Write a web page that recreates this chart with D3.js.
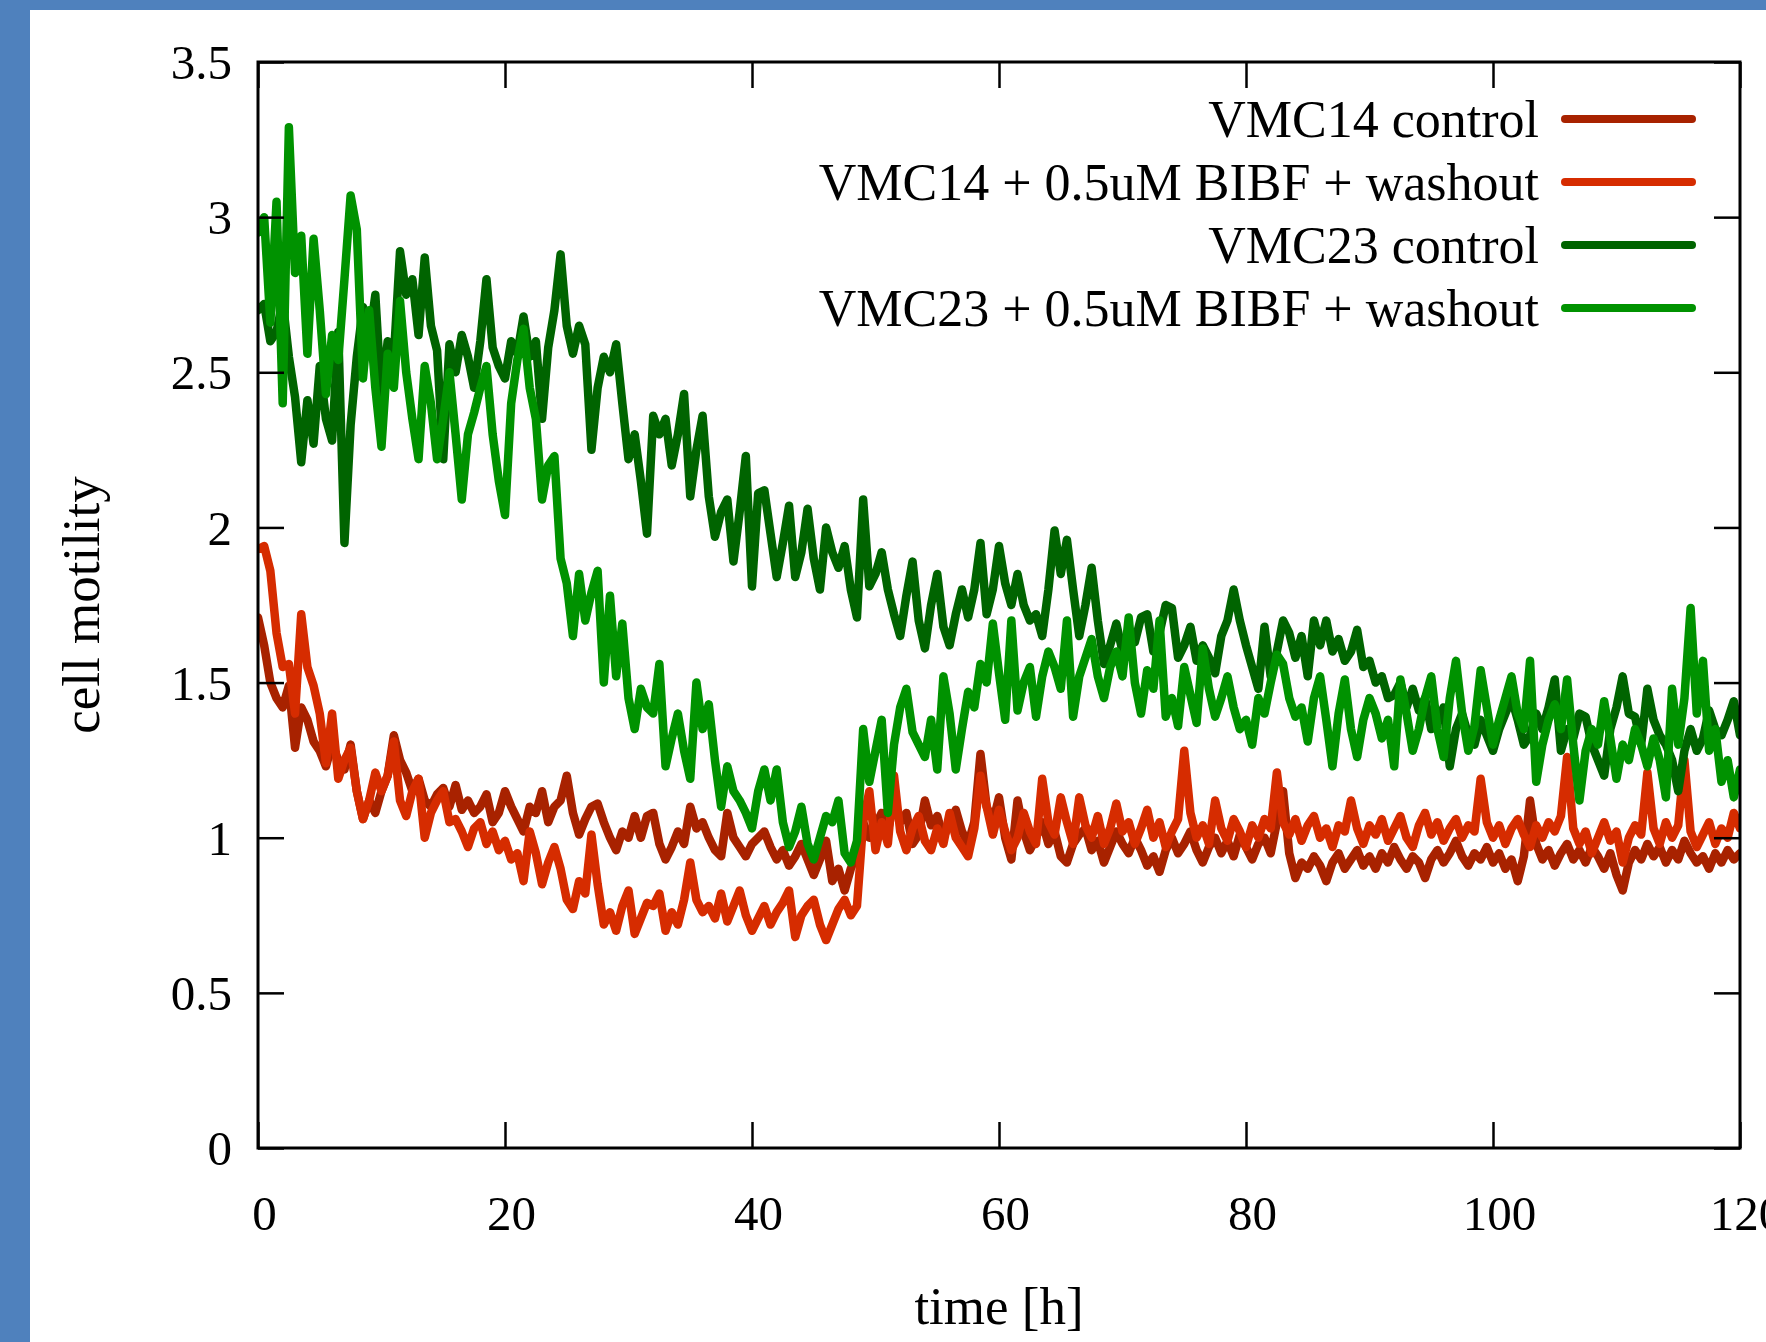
<!DOCTYPE html>
<html><head><meta charset="utf-8">
<script src="https://cdn.jsdelivr.net/npm/d3@7"></script>
<style>
html,body{margin:0;padding:0;background:#fff;overflow:hidden;}
svg{display:block;}
</style></head><body>
<svg id="chart" width="1766" height="1342"></svg>
<script>
// ---------------- data ----------------
const seriesNames = [
  "VMC14 control",
  "VMC14 + 0.5uM BIBF + washout",
  "VMC23 control",
  "VMC23 + 0.5uM BIBF + washout"
];
const seriesColors = ["#a82200", "#d62c00", "#006400", "#009200"];
const timeStep = 0.5; // hours between samples, starting at t = 0

const vmc14Control = [
  1.71,1.62,1.50,1.45,1.42,1.49,1.29,1.42,1.38,1.31,1.28,1.23,1.30,1.25,1.22,1.30,1.15,1.06,1.12,1.08,
  1.15,1.20,1.33,1.25,1.21,1.15,1.19,1.12,1.10,1.14,1.16,1.10,1.17,1.09,1.12,1.08,1.10,1.14,1.05,1.08,
  1.15,1.10,1.06,1.02,1.10,1.08,1.15,1.05,1.10,1.12,1.20,1.08,1.01,1.06,1.10,1.11,1.05,1.00,0.96,1.02,
  1.00,1.07,1.00,1.07,1.08,0.98,0.93,0.97,1.02,0.98,1.10,1.03,1.05,1.00,0.96,0.94,1.08,1.00,0.97,0.94,
  0.98,1.00,1.02,0.97,0.93,0.96,0.91,0.94,0.98,0.93,0.88,0.93,0.99,0.86,0.90,0.83,0.90,0.95,1.05,1.00,
  1.04,1.08,1.02,1.12,1.05,1.08,0.98,1.01,1.12,1.04,1.07,1.00,1.05,1.09,1.02,0.98,1.05,1.27,1.10,1.05,
  1.13,1.00,0.93,1.12,1.02,0.96,1.00,1.05,0.98,1.02,0.94,0.92,0.98,1.01,1.03,0.96,0.99,0.92,0.97,1.02,
  0.98,0.95,1.00,0.96,0.91,0.94,0.89,0.96,1.00,0.95,0.98,1.02,0.96,0.92,0.97,1.00,0.95,0.99,0.94,1.01,
  0.97,0.93,0.98,1.00,0.95,1.05,1.15,0.95,0.87,0.92,0.90,0.94,0.91,0.86,0.92,0.95,0.90,0.93,0.96,0.91,
  0.94,0.90,0.95,0.92,0.97,0.93,0.90,0.94,0.92,0.87,0.93,0.96,0.92,0.95,0.99,0.94,0.91,0.95,0.93,0.97,
  0.92,0.95,0.90,0.93,0.86,0.94,1.12,0.98,0.93,0.96,0.91,0.95,0.98,0.93,0.96,0.92,0.97,0.94,0.90,0.95,
  0.88,0.83,0.92,0.96,0.93,0.98,0.94,0.97,0.92,0.96,0.93,0.99,0.95,0.92,0.94,0.90,0.95,0.92,0.96,0.93,
  0.95
];

const vmc14Bibf = [
  1.93,1.94,1.86,1.66,1.55,1.56,1.40,1.72,1.55,1.49,1.40,1.24,1.40,1.19,1.25,1.29,1.15,1.06,1.12,1.21,
  1.15,1.20,1.31,1.12,1.07,1.15,1.19,1.00,1.08,1.12,1.15,1.05,1.06,1.02,0.97,1.03,1.05,0.98,1.02,0.96,
  0.99,0.93,0.95,0.86,1.02,0.95,0.85,0.92,0.97,0.90,0.80,0.77,0.86,0.82,1.01,0.85,0.72,0.76,0.70,0.78,
  0.83,0.69,0.74,0.79,0.78,0.82,0.70,0.76,0.72,0.80,0.92,0.80,0.76,0.78,0.74,0.82,0.73,0.78,0.83,0.75,
  0.70,0.74,0.78,0.72,0.76,0.79,0.83,0.68,0.75,0.78,0.80,0.72,0.67,0.72,0.77,0.80,0.75,0.78,1.05,1.15,
  0.96,1.05,0.98,1.20,1.02,0.96,1.03,1.07,0.99,0.96,1.03,0.98,1.08,1.00,0.97,0.94,1.03,1.20,1.10,1.01,
  1.09,1.02,0.96,1.00,1.08,1.02,0.98,1.19,1.05,1.01,1.13,1.05,0.98,1.13,1.04,1.00,1.07,0.98,1.03,1.11,
  1.02,1.05,0.98,1.03,1.09,1.00,1.05,0.97,1.02,1.06,1.28,1.08,1.00,1.04,0.98,1.12,1.03,0.99,1.06,1.02,
  0.97,1.04,1.00,1.06,1.03,1.21,1.05,1.01,1.06,0.99,1.04,1.07,1.00,1.03,0.97,1.04,1.02,1.12,1.03,0.98,
  1.04,1.01,1.06,0.99,1.03,1.07,1.00,0.97,1.04,1.08,1.01,1.05,0.99,1.03,1.06,1.00,1.04,1.02,1.19,1.05,
  1.00,1.04,0.98,1.03,1.06,1.01,0.97,1.04,1.00,1.05,1.02,1.07,1.26,1.03,0.98,1.02,0.95,1.00,1.05,0.99,
  1.02,0.92,1.00,1.04,1.01,1.21,1.03,0.98,1.05,1.00,1.04,1.25,1.02,0.97,1.01,1.05,0.98,1.03,1.00,1.08,
  1.03
];

const vmc23Control = [
  2.70,2.72,2.60,2.63,2.73,2.55,2.42,2.21,2.41,2.27,2.52,2.35,2.28,2.63,1.95,2.33,2.55,2.71,2.60,2.75,
  2.41,2.60,2.55,2.89,2.75,2.80,2.62,2.87,2.65,2.57,2.22,2.59,2.50,2.62,2.55,2.45,2.60,2.80,2.58,2.52,
  2.48,2.60,2.56,2.68,2.55,2.60,2.35,2.58,2.70,2.88,2.65,2.56,2.65,2.59,2.25,2.45,2.55,2.50,2.59,2.40,
  2.22,2.30,2.15,1.98,2.36,2.30,2.35,2.20,2.30,2.43,2.10,2.25,2.36,2.10,1.97,2.05,2.09,1.89,2.05,2.23,
  1.81,2.11,2.12,1.98,1.84,1.95,2.07,1.84,1.92,2.06,1.90,1.80,2.00,1.92,1.87,1.94,1.80,1.71,2.09,1.81,
  1.85,1.92,1.80,1.72,1.65,1.78,1.89,1.70,1.61,1.75,1.85,1.68,1.62,1.72,1.80,1.71,1.80,1.95,1.72,1.80,
  1.94,1.82,1.75,1.85,1.75,1.70,1.72,1.65,1.80,1.99,1.85,1.96,1.80,1.65,1.75,1.87,1.70,1.56,1.62,1.69,
  1.60,1.66,1.63,1.71,1.72,1.60,1.66,1.75,1.74,1.58,1.62,1.68,1.57,1.62,1.58,1.53,1.65,1.70,1.80,1.70,
  1.62,1.55,1.48,1.68,1.52,1.60,1.70,1.66,1.58,1.65,1.52,1.70,1.62,1.70,1.60,1.64,1.57,1.60,1.67,1.55,
  1.57,1.50,1.52,1.45,1.46,1.50,1.42,1.48,1.41,1.45,1.35,1.38,1.42,1.23,1.35,1.40,1.33,1.30,1.38,1.33,
  1.28,1.35,1.40,1.45,1.38,1.30,1.33,1.40,1.35,1.42,1.51,1.28,1.35,1.32,1.40,1.39,1.30,1.25,1.20,1.35,
  1.42,1.52,1.40,1.39,1.30,1.48,1.38,1.33,1.30,1.25,1.15,1.28,1.35,1.28,1.32,1.41,1.35,1.33,1.38,1.44,
  1.33
];

const vmc23Bibf = [
  2.95,3.00,2.66,3.05,2.40,3.29,2.82,2.94,2.56,2.93,2.70,2.43,2.62,2.54,2.80,3.07,2.96,2.48,2.70,2.45,
  2.26,2.56,2.45,2.73,2.50,2.35,2.22,2.52,2.40,2.22,2.35,2.50,2.30,2.09,2.30,2.37,2.45,2.52,2.30,2.15,
  2.04,2.40,2.54,2.64,2.45,2.35,2.09,2.20,2.23,1.90,1.82,1.65,1.85,1.70,1.79,1.86,1.50,1.78,1.52,1.69,
  1.45,1.35,1.48,1.42,1.40,1.56,1.23,1.32,1.40,1.28,1.19,1.50,1.35,1.43,1.25,1.10,1.23,1.15,1.12,1.08,
  1.03,1.15,1.22,1.12,1.22,1.05,0.97,1.02,1.10,0.98,0.93,1.00,1.07,1.05,1.12,0.95,0.92,0.99,1.35,1.18,
  1.28,1.38,1.08,1.30,1.42,1.48,1.34,1.30,1.26,1.38,1.22,1.52,1.40,1.22,1.35,1.47,1.42,1.56,1.50,1.69,
  1.53,1.38,1.70,1.41,1.50,1.55,1.39,1.52,1.60,1.55,1.48,1.70,1.39,1.52,1.58,1.64,1.52,1.45,1.55,1.60,
  1.52,1.71,1.50,1.40,1.54,1.48,1.70,1.39,1.45,1.36,1.55,1.46,1.37,1.61,1.48,1.39,1.45,1.52,1.42,1.35,
  1.38,1.30,1.45,1.40,1.50,1.59,1.56,1.45,1.39,1.42,1.31,1.45,1.52,1.38,1.23,1.40,1.51,1.35,1.26,1.38,
  1.45,1.40,1.32,1.38,1.23,1.51,1.40,1.28,1.35,1.45,1.52,1.35,1.26,1.45,1.57,1.40,1.28,1.36,1.54,1.42,
  1.30,1.38,1.45,1.52,1.40,1.35,1.57,1.18,1.30,1.38,1.43,1.35,1.51,1.30,1.12,1.28,1.35,1.30,1.44,1.32,
  1.19,1.30,1.25,1.35,1.30,1.23,1.32,1.25,1.13,1.48,1.30,1.45,1.74,1.40,1.57,1.28,1.35,1.18,1.25,1.13,
  1.22
];

const xTicks = [0, 20, 40, 60, 80, 100, 120];
const yTicks = [0, 0.5, 1, 1.5, 2, 2.5, 3, 3.5];
const xLabel = "time [h]";
const yLabel = "cell motility";

// ---------------- drawing ----------------
const W = 1766, H = 1342;
const FONT = "'Liberation Serif', 'Times New Roman', serif";
const plot = { left: 258, right: 1740, top: 62, bottom: 1148 };

const svg = d3.select("#chart");
svg.append("rect").attr("width", W).attr("height", H).attr("fill", "#ffffff");
// blue page border (left and top)
svg.append("rect").attr("x", 0).attr("y", 0).attr("width", 30).attr("height", H).attr("fill", "#4f81bd");
svg.append("rect").attr("x", 0).attr("y", 0).attr("width", W).attr("height", 10).attr("fill", "#4f81bd");

const x = d3.scaleLinear().domain([0, 120]).range([plot.left, plot.right]);
const y = d3.scaleLinear().domain([0, 3.5]).range([plot.bottom, plot.top]);

svg.append("defs").append("clipPath").attr("id", "plotclip")
  .append("rect").attr("x", plot.left).attr("y", plot.top)
  .attr("width", plot.right - plot.left).attr("height", plot.bottom - plot.top);

const allSeries = [vmc14Control, vmc14Bibf, vmc23Control, vmc23Bibf];
const line = d3.line()
  .x((d, i) => x(i * timeStep))
  .y(d => y(d));

const gLines = svg.append("g").attr("clip-path", "url(#plotclip)");
allSeries.forEach((s, k) => {
  gLines.append("path")
    .datum(s)
    .attr("d", line)
    .attr("fill", "none")
    .attr("stroke", seriesColors[k])
    .attr("stroke-width", 8.5)
    .attr("stroke-linejoin", "round")
    .attr("stroke-linecap", "round");
});

// axes (ticks point inward, mirrored on top and right)
const TICK = 26;
const yFmt = d => String(d);

function styleAxis(g) {
  g.select(".domain").remove();
  g.selectAll(".tick line").attr("stroke", "#000").attr("stroke-width", 2.5);
  g.selectAll(".tick text").attr("fill", "#000");
  g.attr("font-family", FONT).attr("font-size", 49);
}

svg.append("g").attr("transform", `translate(0,${plot.bottom})`)
  .call(d3.axisBottom(x).tickValues(xTicks).tickSizeInner(-TICK).tickSizeOuter(0)
    .tickPadding(47).tickFormat(d3.format("d")))
  .call(styleAxis)
  .selectAll(".tick text").attr("dx", 6);

svg.append("g").attr("transform", `translate(${plot.left},0)`)
  .call(d3.axisLeft(y).tickValues(yTicks).tickSizeInner(-TICK).tickSizeOuter(0)
    .tickPadding(26).tickFormat(yFmt))
  .call(styleAxis)
  .selectAll(".tick text").attr("dy", "0.34em");

svg.append("g").attr("transform", `translate(0,${plot.top})`)
  .call(d3.axisTop(x).tickValues(xTicks).tickSizeInner(-TICK).tickSizeOuter(0).tickFormat(""))
  .call(styleAxis);

svg.append("g").attr("transform", `translate(${plot.right},0)`)
  .call(d3.axisRight(y).tickValues(yTicks).tickSizeInner(-TICK).tickSizeOuter(0).tickFormat(""))
  .call(styleAxis);

// frame
svg.append("rect")
  .attr("x", plot.left).attr("y", plot.top)
  .attr("width", plot.right - plot.left).attr("height", plot.bottom - plot.top)
  .attr("fill", "none").attr("stroke", "#000").attr("stroke-width", 3);

// axis labels
svg.append("text")
  .attr("x", (plot.left + plot.right) / 2).attr("y", 1324)
  .attr("text-anchor", "middle")
  .attr("font-family", FONT).attr("font-size", 53).attr("fill", "#000")
  .text(xLabel);

svg.append("text")
  .attr("transform", `translate(99,${(plot.top + plot.bottom) / 2}) rotate(-90)`)
  .attr("text-anchor", "middle")
  .attr("font-family", FONT).attr("font-size", 53).attr("fill", "#000")
  .text(yLabel);

// legend
const legend = svg.append("g");
seriesNames.forEach((name, k) => {
  legend.append("text")
    .attr("x", 1539).attr("y", 137 + 63 * k)
    .attr("text-anchor", "end")
    .attr("font-family", FONT).attr("font-size", 52).attr("fill", "#000")
    .text(name);
  legend.append("line")
    .attr("x1", 1565).attr("x2", 1692)
    .attr("y1", 119 + 63 * k).attr("y2", 119 + 63 * k)
    .attr("stroke", seriesColors[k]).attr("stroke-width", 8)
    .attr("stroke-linecap", "round");
});
</script>
</body></html>
